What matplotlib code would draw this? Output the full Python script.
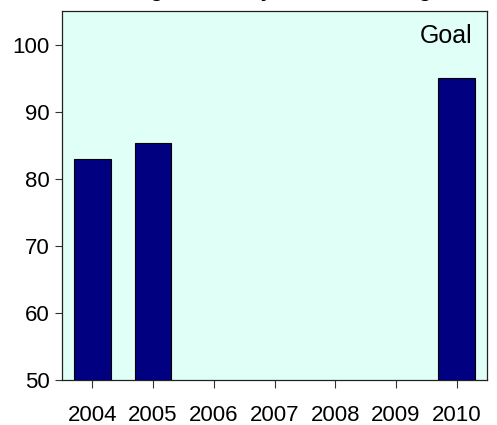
import matplotlib
matplotlib.use("Agg")
import matplotlib.pyplot as plt
from matplotlib import font_manager

years = ["2004", "2005", "2006", "2007", "2008", "2009", "2010"]
values = [83.0, 85.3, None, None, None, None, 95.0]
yticks = [50, 60, 70, 80, 90, 100]
title = "Percentage of Timely Claims Meeting Goal"
annotation = "Goal"

names = {f.name for f in font_manager.fontManager.ttflist}
tick_font = "Liberation Sans Narrow" if "Liberation Sans Narrow" in names else "Liberation Sans"
tick_size = 19 if tick_font == "Liberation Sans Narrow" else 16

fig = plt.figure(figsize=(4.97, 4.25), dpi=100)
ax = fig.add_axes([62/497, 1 - 380/425, (487-62)/497, (380-11)/425])
ax.set_facecolor("#E0FFF6")

xs = [i for i, v in enumerate(values) if v is not None]
hs = [v for v in values if v is not None]
ax.bar(xs, [h - 50 for h in hs], bottom=50, width=0.6, color="#000080",
       edgecolor="black", linewidth=0.8, zorder=3)

ax.set_xlim(-0.5, len(years) - 0.5)
ax.set_ylim(50, 105)
ax.set_xticks(range(len(years)))
ax.set_xticklabels(years, fontfamily=tick_font, fontsize=tick_size)
ax.set_yticks(yticks)
ax.set_yticklabels([str(t) for t in yticks], fontfamily=tick_font, fontsize=tick_size)
ax.tick_params(axis="x", direction="out", length=6, width=0.8, pad=12, color="#333333")
ax.tick_params(axis="y", direction="out", length=5, width=0.8, pad=4, color="#333333")
for s in ax.spines.values():
    s.set_color("#222222")
    s.set_linewidth(0.9)

ax.text(0.965, 0.965, annotation, transform=ax.transAxes, ha="right", va="top",
        fontfamily=tick_font, fontsize=18)

fig.text(0.55, 1.007, title, ha="center", va="baseline", fontsize=15,
         fontweight="bold", fontfamily="Liberation Sans")

fig.savefig("out.png", dpi=100)
